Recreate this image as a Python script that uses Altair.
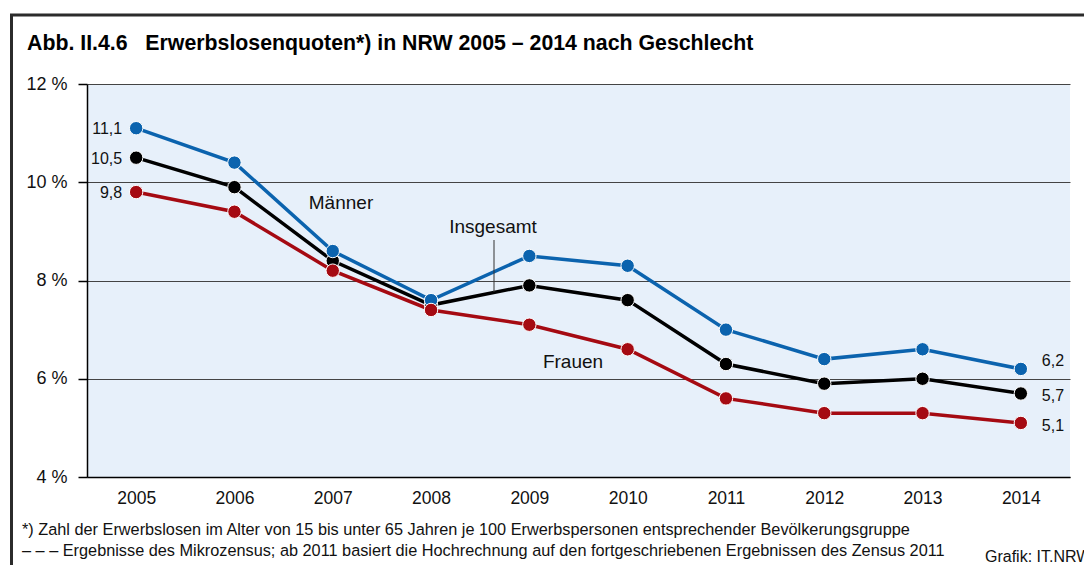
import altair as alt
import pandas as pd

# ---- data ----
jahre = ["2005", "2006", "2007", "2008", "2009", "2010", "2011", "2012", "2013", "2014"]
insgesamt = [10.5, 9.9, 8.4, 7.5, 7.9, 7.6, 6.3, 5.9, 6.0, 5.7]
maenner = [11.1, 10.4, 8.6, 7.6, 8.5, 8.3, 7.0, 6.4, 6.6, 6.2]
frauen = [9.8, 9.4, 8.2, 7.4, 7.1, 6.6, 5.6, 5.3, 5.3, 5.1]
serien = ["Insgesamt", "Männer", "Frauen"]
farben = ["#000000", "#0b63ae", "#a50a12"]
y_ticks = [4, 6, 8, 10, 12]

NB = "\u00a0"
titel = "Abb. II.4.6" + NB * 3 + "Erwerbslosenquoten*) in NRW 2005 – 2014 nach Geschlecht"
fussnote1 = "*) Zahl der Erwerbslosen im Alter von 15 bis unter 65 Jahren je 100 Erwerbspersonen entsprechender Bevölkerungsgruppe"
fussnote2 = "– – – Ergebnisse des Mikrozensus; ab 2011 basiert die Hochrechnung auf den fortgeschriebenen Ergebnissen des Zensus 2011"
quelle = "Grafik: IT.NRW"

FONT = "Liberation Sans"

rows = []
for name, vals in zip(serien, [insgesamt, maenner, frauen]):
    for j, v in zip(jahre, vals):
        rows.append({"Jahr": j, "Wert": v, "Serie": name,
                     "Label": f"{v:.1f}".replace(".", ",")})
df = pd.DataFrame(rows)

W, H = 983, 393

x_enc = alt.X("Jahr:O", scale=alt.Scale(type="point", padding=0.5),
              axis=alt.Axis(title=None, labelAngle=0, ticks=False, domain=True,
                            domainColor="#000000", domainWidth=1.5,
                            labelFontSize=17.5, labelFont=FONT, labelColor="#111111",
                            labelPadding=12, grid=False))
y_enc = alt.Y("Wert:Q", scale=alt.Scale(domain=[4, 12], nice=False, zero=False),
              axis=alt.Axis(title=None, values=y_ticks, labelExpr="datum.value + ' %'",
                            tickSize=9, tickColor="#000000", tickWidth=1.5,
                            domain=True, domainColor="#000000", domainWidth=1.5,
                            grid=True, gridColor="#444444", gridWidth=1,
                            labelFontSize=18, labelFont=FONT, labelColor="#111111",
                            labelPadding=11))
col = alt.Color("Serie:N", scale=alt.Scale(domain=serien, range=farben), legend=None)

base = alt.Chart(df)

lines = base.mark_line(strokeWidth=3.5).encode(
    x=x_enc, y=y_enc, color=col, detail="Serie:N")

points = base.mark_circle(size=180, opacity=1, stroke="white", strokeWidth=1).encode(
    x="Jahr:O", y="Wert:Q", color=col)

# value labels at both ends
lab_left = base.mark_text(align="right", baseline="middle", dx=-14, dy=1,
                          fontSize=16, font=FONT, color="#111111").encode(
    x="Jahr:O", y="Wert:Q", text="Label:N").transform_filter("datum.Jahr == '2005'")
lab_right = base.mark_text(align="left", baseline="middle", dx=21, dy=3,
                           fontSize=16, font=FONT, color="#111111").encode(
    x="Jahr:O", y="Wert:Q", text="Label:N").transform_filter(
    "datum.Jahr == '2014' && datum.Serie != 'Männer'")
lab_right_m = base.mark_text(align="left", baseline="middle", dx=21, dy=-8,
                             fontSize=16, font=FONT, color="#111111").encode(
    x="Jahr:O", y="Wert:Q", text="Label:N").transform_filter(
    "datum.Jahr == '2014' && datum.Serie == 'Männer'")


def txt(s, x, y, size, align="left", weight="normal", color="#111111"):
    return alt.Chart(pd.DataFrame({"t": [s]})).mark_text(
        align=align, baseline="middle", fontSize=size, font=FONT,
        fontWeight=weight, color=color).encode(
        x=alt.value(x), y=alt.value(y), text="t:N")


# series annotations (pixel positions relative to plot origin)
ann = (txt("Männer", 254, 119, 19, align="center")
       + txt("Insgesamt", 406, 143, 19, align="center")
       + txt("Frauen", 486, 278, 19, align="center"))
leader = alt.Chart(pd.DataFrame({"a": [0]})).mark_rule(color="#333333", strokeWidth=1).encode(
    x=alt.value(407), y=alt.value(156), y2=alt.value(208))

frame = alt.Chart(pd.DataFrame({"a": [0]})).mark_rect(
    fillOpacity=0, stroke="#2b2b2b", strokeWidth=3).encode(
    x=alt.value(-75.5), x2=alt.value(1100), y=alt.value(-69), y2=alt.value(600))

title = txt(titel, -60, -40.5, 21.3, weight="bold", color="#000000")
notes = (txt(fussnote1, -65, 446, 16.3) + txt(fussnote2, -65, 467, 16.3)
         + txt(quelle, 898, 473, 16))

chart = alt.layer(frame, lines, points, lab_left, lab_right, lab_right_m,
                  ann, leader, title, notes).properties(
    width=W, height=H,
    autosize=alt.AutoSizeParams(type="none"),
    padding={"left": 79, "top": 76, "right": 14, "bottom": 88},
    background="white",
).configure_view(fill="#e7f0fa", stroke=None)

chart.save("out.html", embed_options={"renderer": "svg", "actions": False})
